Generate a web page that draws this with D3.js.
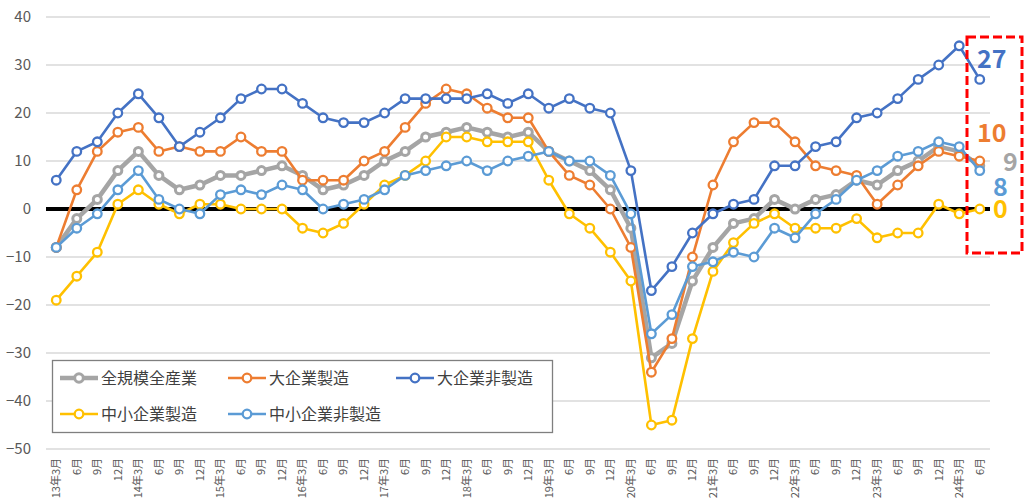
<!DOCTYPE html>
<html><head><meta charset="utf-8">
<script src="https://cdn.jsdelivr.net/npm/d3@7"></script>
<style>
html,body{margin:0;padding:0;background:#fff;}
svg{display:block;font-family:"Noto Sans CJK JP","Noto Sans",sans-serif;}
</style></head>
<body>
<svg id="c" width="1025" height="504"></svg>
<script>
const categories = ["13年3月","6月","9月","12月","14年3月","6月","9月","12月","15年3月","6月","9月","12月","16年3月","6月","9月","12月","17年3月","6月","9月","12月","18年3月","6月","9月","12月","19年3月","6月","9月","12月","20年3月","6月","9月","12月","21年3月","6月","9月","12月","22年3月","6月","9月","12月","23年3月","6月","9月","12月","24年3月","6月"];
const allIndustries = [-8,-2,2,8,12,7,4,5,7,7,8,9,7,4,5, 7,10,12,15,16,17,16,15,16,12,10,8,4,-4,-31, -28,-15,-8,-3,-2,2,0,2,3,6,5,8,10,13,12,9];
const largeMfg = [-8,4,12,16,17,12,13,12,12,15,12,12,6,6,6, 10,12,17,22,25,24,21,19,19,12,7,5,0,-8,-34, -27,-10,5,14,18,18,14,9,8,7,1,5,9,12,11,10];
const largeNonMfg = [6,12,14,20,24,19,13,16,19,23,25,25,22,19,18, 18,20,23,23,23,23,24,22,24,21,23,21,20,8,-17, -12,-5,-1,1,2,9,9,13,14,19,20,23,27,30,34,27];
const smallMfg = [-19,-14,-9,1,4,1,-1,1,1,0,0,0,-4,-5,-3, 1,5,7,10,15,15,14,14,14,6,-1,-4,-9,-15,-45, -44,-27,-13,-7,-3,-1,-4,-4,-4,-2,-6,-5,-5,1,-1,0];
const smallNonMfg = [-8,-4,-1,4,8,2,0,-1,3,4,3,5,4,0,1, 2,4,7,8,9,10,8,10,11,12,10,10,7,-1,-26, -22,-12,-11,-9,-10,-4,-6,-1,2,6,8,11,12,14,13,8];
const seriesNames = ["全規模全産業","大企業製造","大企業非製造","中小企業製造","中小企業非製造"];
const yTicks = [40,30,20,10,0,-10,-20,-30,-40,-50];
const endLabels = ["9","10","27","0","8"];

const colors = ["#A5A5A5","#ED7D31","#4472C4","#FFC000","#5B9BD5"];
const widths = [4.5,2.6,2.6,2.6,2.6];
const series = [allIndustries,largeMfg,largeNonMfg,smallMfg,smallNonMfg].map((v,k)=>({name:seriesNames[k],values:v,color:colors[k],width:widths[k],label:endLabels[k]}));

const svg = d3.select("#c");
const pL=46,pR=990,pT=17,pB=449;
const x = d3.scaleBand().domain(d3.range(categories.length)).range([pL,pR]);
const xc = i => x(i)+x.bandwidth()/2;
const y = d3.scaleLinear().domain([-50,40]).range([pB,pT]);

// gridlines
svg.append("g").selectAll("line").data(yTicks.filter(t=>t!==0)).join("line")
  .attr("x1",pL).attr("x2",pR).attr("y1",d=>y(d)).attr("y2",d=>y(d))
  .attr("stroke","#D9D9D9").attr("stroke-width",1.3);

// y axis labels
const yAxis = d3.axisLeft(y).tickValues(yTicks).tickSize(0).tickPadding(0);
const yg = svg.append("g").attr("transform",`translate(31,0)`).call(yAxis);
yg.select(".domain").remove();
yg.selectAll("text").attr("fill","#595959").style("font-size","15px").attr("font-family","Noto Sans CJK JP");

// x labels
const xAxis = d3.axisBottom(x).tickFormat(i=>categories[i]).tickSize(0).tickPadding(0);
const xg = svg.append("g").attr("transform",`translate(0,${pB})`).call(xAxis);
xg.select(".domain").remove();
xg.selectAll("text").attr("fill","#595959").style("font-size","11px")
  .attr("font-family","Noto Sans CJK JP")
  .attr("text-anchor","end").attr("dy","0.35em")
  .attr("transform","translate(0,9) rotate(-90)").attr("x",0).attr("y",0);

// zero line
svg.append("line").attr("x1",pL).attr("x2",pR).attr("y1",y(0)).attr("y2",y(0))
  .attr("stroke","#000").attr("stroke-width",4);

// lines
const line = d3.line().x((d,i)=>xc(i)).y(d=>y(d));
[0,1,2,3,4].forEach(k=>{
  const s=series[k];
  const g=svg.append("g");
  g.append("path").attr("d",line(s.values)).attr("fill","none").attr("stroke",s.color)
    .attr("stroke-width",s.width).attr("stroke-linejoin","round");
  g.selectAll("circle").data(s.values).join("circle")
    .attr("cx",(d,i)=>xc(i)).attr("cy",d=>y(d)).attr("r",k===0?4:4.3)
    .attr("fill","#fff").attr("stroke",s.color).attr("stroke-width",k===0?3:2.3);
});

// legend
const lg = svg.append("g");
lg.append("rect").attr("x",52.5).attr("y",360.5).attr("width",500).attr("height",72)
  .attr("fill","#fff").attr("stroke","#7F7F7F").attr("stroke-width",1.3);
const legPos=[[60,378],[228,378],[396,378],[60,414],[228,414]];
series.forEach((s,k)=>{
  const [lx,ly]=legPos[k];
  lg.append("line").attr("x1",lx).attr("x2",lx+38).attr("y1",ly).attr("y2",ly)
    .attr("stroke",s.color).attr("stroke-width",s.width);
  lg.append("circle").attr("cx",lx+19).attr("cy",ly).attr("r",4.3).attr("fill","#fff")
    .attr("stroke",s.color).attr("stroke-width",k===0?3:2.3);
  lg.append("text").attr("x",lx+41).attr("y",ly).attr("dy","0.36em")
    .attr("fill","#404040").style("font-size","16px").text(s.name);
});

// end labels
const endPos=[[1003,162],[977,133],[977,59],[993,209],[993,187]];
series.forEach((s,k)=>{
  svg.append("text").attr("x",endPos[k][0]).attr("y",endPos[k][1]).attr("dy","0.36em")
    .attr("fill",s.color).style("font-size","25px").style("font-weight","bold")
    .attr("font-family","Noto Sans CJK JP").text(s.label);
});

// red dashed box
svg.append("rect").attr("x",967).attr("y",37).attr("width",55).attr("height",216)
  .attr("fill","none").attr("stroke","#FF0000").attr("stroke-width",3)
  .attr("stroke-dasharray","9,4");

// cut-off red note at top
svg.append("text").attr("x",1025).attr("y",-4).attr("text-anchor","end")
  .attr("fill","#FF0000").style("font-size","22px").text("（先行き）");
</script>
</body></html>
